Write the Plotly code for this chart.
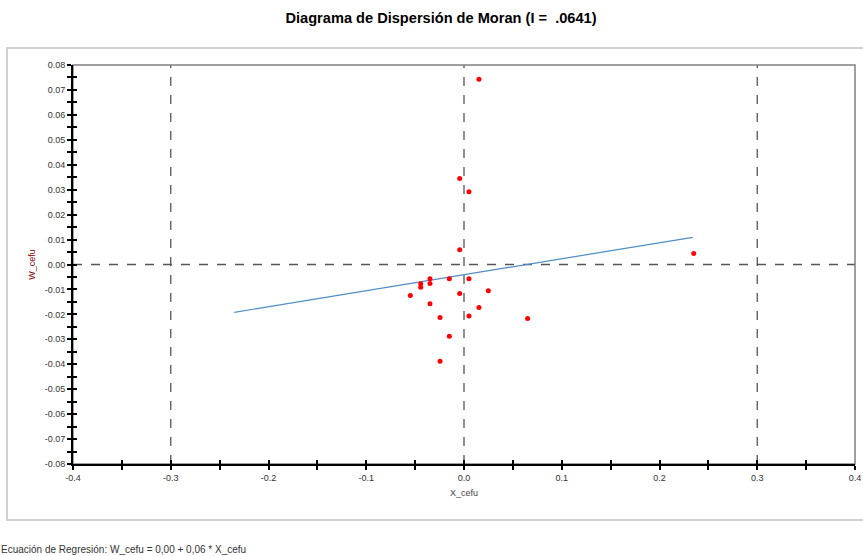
import plotly.graph_objects as go

# ---- data ----
X_CEFU = [0.0153, -0.0044, 0.0051, -0.0044, -0.0348, -0.0443, -0.0348, -0.0443,
          -0.0150, 0.0051, 0.0249, -0.0044, -0.0549, -0.0348, 0.0153, -0.0245,
          0.0051, 0.0651, -0.0150, -0.0245, 0.2350]
W_CEFU = [0.0743, 0.0345, 0.0292, 0.0059, -0.0057, -0.0077, -0.0076, -0.0091,
          -0.0057, -0.0057, -0.0105, -0.0116, -0.0124, -0.0157, -0.0172, -0.0213,
          -0.0207, -0.0217, -0.0288, -0.0388, 0.0044]
MORAN_I = 0.0641
INTERCEPT = -0.0041
LINE_X = [-0.235, 0.234]
LINE_Y = [INTERCEPT + MORAN_I * v for v in LINE_X]

REF_X = [-0.3, 0.0, 0.3]
REF_Y = [0.0]

X_TICKS = [-0.4, -0.3, -0.2, -0.1, 0.0, 0.1, 0.2, 0.3, 0.4]
X_LABELS = ["-0.4", "-0.3", "-0.2", "-0.1", "0.0", "0.1", "0.2", "0.3", "0.4"]
Y_TICKS = [0.08, 0.07, 0.06, 0.05, 0.04, 0.03, 0.02, 0.01, 0.0,
           -0.01, -0.02, -0.03, -0.04, -0.05, -0.06, -0.07, -0.08]
Y_LABELS = ["0.08", "0.07", "0.06", "0.05", "0.04", "0.03", "0.02", "0.01", "0.00",
            "-0.01", "-0.02", "-0.03", "-0.04", "-0.05", "-0.06", "-0.07", "-0.08"]

FONT = "Liberation Sans, Arial, sans-serif"
XR = [-0.4, 0.4]
YR = [-0.08, 0.08]

fig = go.Figure()

fig.add_trace(go.Scatter(x=LINE_X, y=LINE_Y, mode="lines",
                         line=dict(color="#4f8cc4", width=1.2),
                         hoverinfo="skip", showlegend=False))
fig.add_trace(go.Scatter(x=X_CEFU, y=W_CEFU, mode="markers",
                         marker=dict(color="#ff0000", size=5, symbol="circle"),
                         showlegend=False))

for v in REF_X:
    fig.add_vline(x=v, line=dict(color="#555555", width=1.3, dash="9px,9px"), layer="below")
for v in REF_Y:
    fig.add_hline(y=v, line=dict(color="#555555", width=1.3, dash="9px,9px"), layer="below")

# plot frame (top/right gray)
fig.add_shape(type="rect", xref="x domain", yref="y domain", x0=0, x1=1, y0=0, y1=1,
              line=dict(color="#808080", width=1.5), layer="below")
# outer panel border
fig.add_shape(type="rect", xref="paper", yref="paper",
              x0=(7 - 73) / 782, x1=(870 - 73) / 782,
              y0=(464 - 520) / 399, y1=(464 - 48) / 399,
              line=dict(color="#d0d0d0", width=2), layer="below")

common_tick = dict(tickfont=dict(family=FONT, size=9, color="#333333"))

fig.update_layout(
    width=863, height=556,
    margin=dict(l=73, r=8, t=65, b=92, autoexpand=False),
    paper_bgcolor="white", plot_bgcolor="white",
    title=dict(text="<b>Diagrama de Dispersión de Moran (I =  .0641)</b>",
               x=441 / 863, xref="container", xanchor="center", y=1 - 18 / 556, yanchor="middle",
               font=dict(family=FONT, size=14.6, color="#000000")),
    xaxis=dict(range=XR, tickvals=X_TICKS, ticktext=X_LABELS, showgrid=False, zeroline=False,
               automargin=False,
               showline=True, linecolor="#000000", linewidth=2,
               ticks="outside", ticklen=4, tickwidth=1.5, tickcolor="#000000",
               minor=dict(dtick=0.05, tick0=0, ticks="outside", ticklen=4, tickcolor="#000000", tickwidth=1.5),
               title=dict(text="X_cefu", font=dict(family=FONT, size=9, color="#444444"), standoff=8),
               **common_tick),
    yaxis=dict(range=YR, tickvals=Y_TICKS, ticktext=Y_LABELS, showgrid=False, zeroline=False,
               automargin=False,
               showline=True, linecolor="#000000", linewidth=2,
               ticks="outside", ticklen=4, tickwidth=1.5, tickcolor="#000000",
               minor=dict(dtick=0.005, tick0=0, ticks="outside", ticklen=4, tickcolor="#000000", tickwidth=1.5),
               title=dict(text="W_cefu", font=dict(family=FONT, size=9, color="#800000"), standoff=8),
               **common_tick),
    xaxis2=dict(range=XR, overlaying="x", showticklabels=False, showgrid=False, automargin=False,
                zeroline=False, ticks="inside", ticklen=4, tickwidth=1.5, tickcolor="#000000",
                tickvals=X_TICKS,
                minor=dict(dtick=0.05, tick0=0, ticks="inside", ticklen=4, tickcolor="#000000", tickwidth=1.5)),
    yaxis2=dict(range=YR, overlaying="y", showticklabels=False, showgrid=False, automargin=False,
                zeroline=False, ticks="inside", ticklen=4, tickwidth=1.5, tickcolor="#000000",
                tickvals=Y_TICKS,
                minor=dict(dtick=0.005, tick0=0, ticks="inside", ticklen=4, tickcolor="#000000", tickwidth=1.5)),
)

# dummy trace to activate overlay axes
fig.add_trace(go.Scatter(x=[None], y=[None], xaxis="x2", yaxis="y2", showlegend=False,
                         hoverinfo="skip"))

fig.add_annotation(text="Ecuación de Regresión: W_cefu = 0,00 + 0,06 * X_cefu",
                   xref="paper", yref="paper", x=(-1 - 73) / 782, y=(464 - 549) / 399,
                   xanchor="left", yanchor="middle", showarrow=False,
                   font=dict(family=FONT, size=10, color="#333333"))

fig.write_html("out.html")
